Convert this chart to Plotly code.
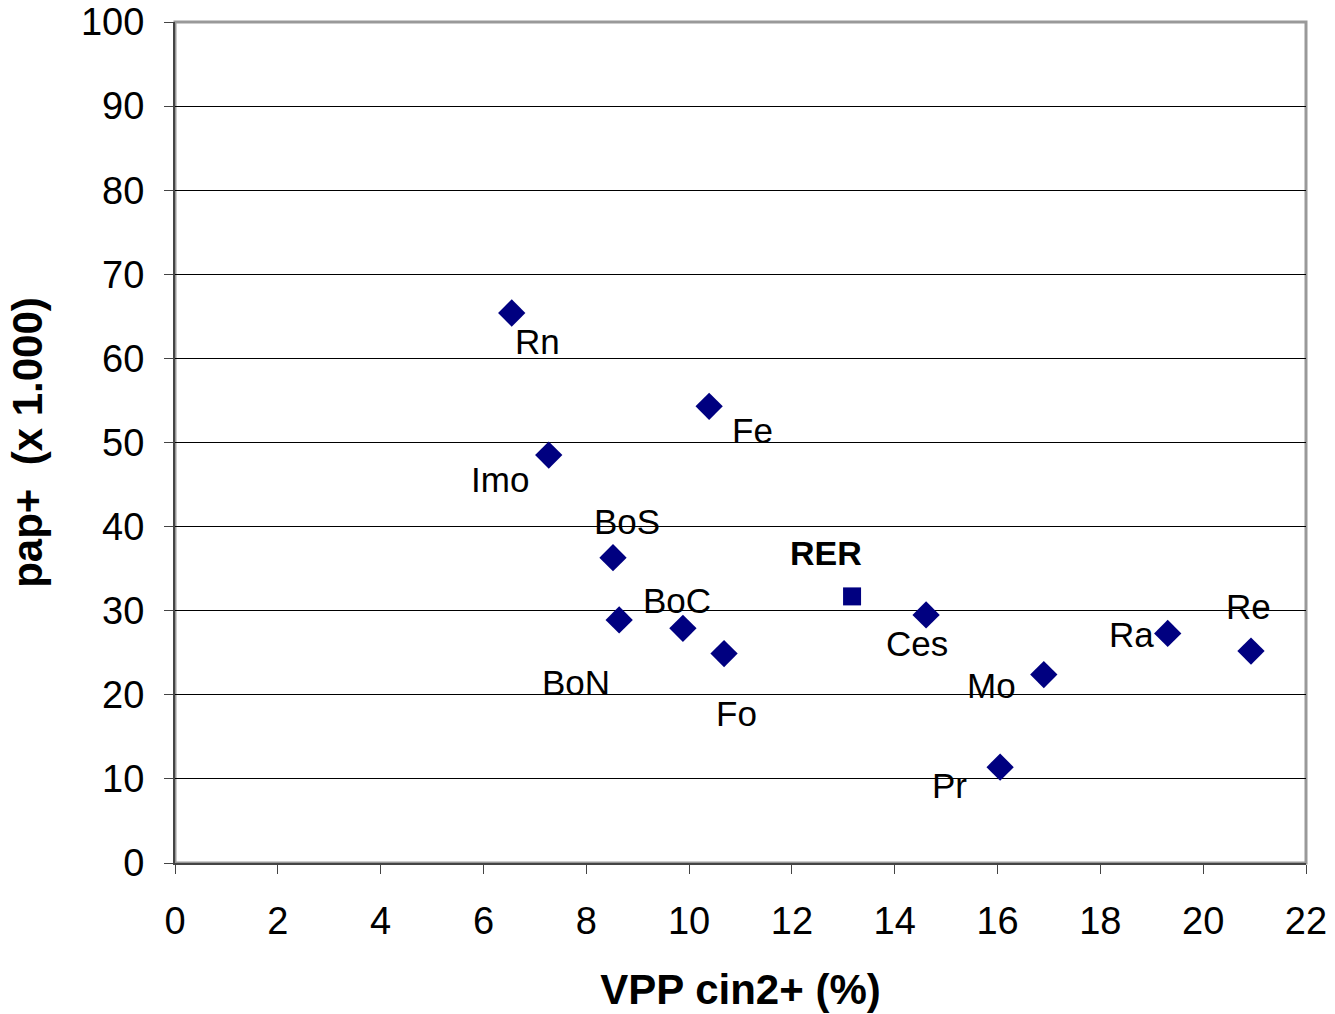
import plotly.graph_objects as go

# data points
labels = ["Rn", "Fe", "Imo", "BoS", "BoN", "BoC", "Fo", "Ces", "Mo", "Pr", "Ra", "Re"]
vpp = [6.55, 10.39, 7.27, 8.52, 8.64, 9.88, 10.68, 14.61, 16.90, 16.05, 19.31, 20.93]
pap = [65.4, 54.3, 48.5, 36.3, 28.9, 27.9, 24.9, 29.5, 22.4, 11.4, 27.3, 25.2]

rer_label = "RER"
rer_vpp = [13.17]
rer_pap = [31.7]

# label offsets (pixels) relative to each marker
offsets = {
    "Rn": (26, 29), "Fe": (43, 24), "Imo": (-49, 24), "BoS": (14, -36),
    "BoN": (-43, 63), "BoC": (-6, -28), "Fo": (12, 60), "Ces": (-9, 29),
    "Mo": (-52, 11), "Pr": (-51, 18), "Ra": (-36, 1), "Re": (-2, -45),
}

NAVY = "#000080"
FONT = "Liberation Sans, Arial, sans-serif"

fig = go.Figure()
fig.add_trace(go.Scatter(
    x=vpp, y=pap, mode="markers",
    marker=dict(symbol="diamond", size=21, color=NAVY),
    hoverinfo="text", text=labels, showlegend=False,
))
fig.add_trace(go.Scatter(
    x=rer_vpp, y=rer_pap, mode="markers",
    marker=dict(symbol="square", size=18, color=NAVY),
    hoverinfo="text", text=[rer_label], showlegend=False,
))

for lab, xv, yv in zip(labels, vpp, pap):
    ax, ay = offsets[lab]
    fig.add_annotation(x=xv, y=yv, text=lab, showarrow=True, arrowcolor="rgba(0,0,0,0)",
                       ax=ax, ay=ay, font=dict(size=35, color="black", family=FONT))
fig.add_annotation(x=rer_vpp[0], y=rer_pap[0], text="<b>" + rer_label + "</b>", showarrow=True,
                   arrowcolor="rgba(0,0,0,0)", ax=-26, ay=-43,
                   font=dict(size=34, color="black", family=FONT))

fig.update_layout(
    width=1335, height=1014,
    margin=dict(l=175, r=29, t=22, b=151, autoexpand=False),
    paper_bgcolor="white", plot_bgcolor="white",
    font=dict(family=FONT, size=38, color="black"),
    shapes=[dict(type="rect", xref="paper", yref="paper", x0=0, y0=0, x1=1, y1=1,
                 line=dict(color="#999999", width=3), layer="below")],
)
fig.update_xaxes(
    range=[0, 22], dtick=2, tick0=0, showgrid=False, zeroline=False,
    showline=True, linecolor="#444444", linewidth=2,
    ticks="outside", ticklen=9, tickcolor="#444444", tickwidth=1,
    ticklabelstandoff=14, ticklabeloverflow="allow",
    tickfont=dict(size=38), title=dict(text="<b>VPP cin2+ (%)</b>", font=dict(size=42), standoff=34),
)
fig.update_yaxes(
    range=[0, 100], dtick=10, tick0=0, showgrid=True, gridcolor="black", gridwidth=1,
    zeroline=False, showline=True, linecolor="#444444", linewidth=2,
    ticks="outside", ticklen=9, tickcolor="#444444", tickwidth=1,
    ticklabelstandoff=12, ticklabeloverflow="allow",
    tickfont=dict(size=38), title=dict(text="<b>pap+&nbsp; (x 1.000)</b>", font=dict(size=42), standoff=25),
)

# drop the default 8px page margin so the figure starts at the window corner
fig.write_html("out.html", config={"displayModeBar": False},
               post_script="document.body.style.margin='0';")
